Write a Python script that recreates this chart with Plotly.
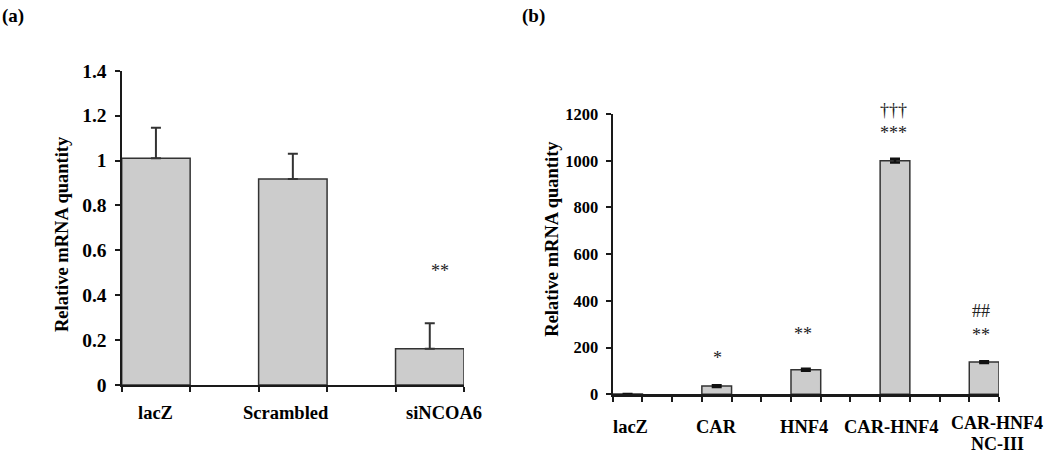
import plotly.graph_objects as go

# ---------------- data ----------------
a_categories = ["lacZ", "Scrambled", "siNCOA6"]
a_values = [1.01, 0.918, 0.162]
a_errors = [0.136, 0.112, 0.113]
a_sig = ["", "", "**"]
a_sig_y = [None, None, 0.508]

b_categories = ["lacZ", "CAR", "HNF4", "CAR-HNF4", "CAR-HNF4\nNC-III"]
b_values = [1, 35, 105, 1000, 138]
b_errors = [0, 4, 4, 8, 4]
b_sig_top = ["", "", "", "†††", "##"]
b_sig_top_y = [None, None, None, 1118, 357]
b_sig_low = ["", "*", "**", "***", "**"]
b_sig_low_y = [None, 156, 258, 1118, 255]

a_yticks = [0, 0.2, 0.4, 0.6, 0.8, 1, 1.2, 1.4]
a_yticklabels = ["0", "0.2", "0.4", "0.6", "0.8", "1", "1.2", "1.4"]
b_yticks = [0, 200, 400, 600, 800, 1000, 1200]
b_yticklabels = ["0", "200", "400", "600", "800", "1000", "1200"]

# ---------------- style ----------------
W, H = 1050, 455
SERIF = "Liberation Serif, Times New Roman, serif"
BAR_FILL = "#cccccc"
EDGE = "#333333"
AX = "#1a1a1a"

a_step = 2   # slots per group in panel a
b_step = 3   # slots per group in panel b
a_x = [i * a_step for i in range(len(a_categories))]
b_x = [i * b_step for i in range(len(b_categories))]
a_nslots = a_x[-1] + 1
b_nslots = b_x[-1] + 1

a_label_shift = [0, -7, 14]
b_label_shift = [3, 0, -2, -4, 13]
b_sig_shift = [0, 1, -3, -2, -3]
a_sig_shift = [0, 0, 10]
b_top_yshift = [0, 0, 0, 23, 0]


def px_x(p):
    return p / W


def px_y(p):
    return 1 - p / H


fig = go.Figure()

fig.add_trace(go.Bar(
    x=a_x, y=a_values, width=1.0,
    marker=dict(color=BAR_FILL, line=dict(color=EDGE, width=1.5)),
    error_y=dict(type="data", array=a_errors, arrayminus=[0] * len(a_errors),
                 symmetric=False, color=EDGE, thickness=2, width=5),
    xaxis="x", yaxis="y", showlegend=False, hoverinfo="skip",
))

fig.add_trace(go.Bar(
    x=b_x, y=b_values, width=1.0,
    marker=dict(color=BAR_FILL, line=dict(color=EDGE, width=1.5)),
    error_y=dict(type="data", array=b_errors, color="#111111", thickness=2.5, width=5),
    xaxis="x2", yaxis="y2", showlegend=False, hoverinfo="skip",
))

tick_font_a = dict(family=SERIF, size=19.5, color="#000", weight="bold")
tick_font_b = dict(family=SERIF, size=16.5, color="#000", weight="bold")

common_x = dict(showgrid=False, zeroline=False, showline=True, linewidth=2.2,
                linecolor=AX, ticks="outside", ticklen=5, tickwidth=2,
                tickcolor=AX, showticklabels=False, tickmode="array", automargin=False)
common_y = dict(showgrid=False, zeroline=False, showline=True, linewidth=2.2,
                linecolor=AX, ticks="outside", ticklen=5, tickwidth=2,
                tickcolor=AX, tickmode="array", ticklabelstandoff=4, automargin=False)

fig.update_layout(
    template="none",
    width=W, height=H,
    margin=dict(l=0, r=0, t=0, b=0, pad=0, autoexpand=False),
    paper_bgcolor="white", plot_bgcolor="white",
    showlegend=False,
    bargap=0,
    xaxis=dict(domain=[px_x(121.7), px_x(464)], range=[-0.5, a_nslots - 0.5],
               tickvals=[i - 0.5 for i in range(a_nslots + 1)], anchor="y", **common_x),
    yaxis=dict(domain=[px_y(385), px_y(70.7)], range=[0, 1.4], anchor="x",
               tickvals=a_yticks, ticktext=a_yticklabels, tickfont=tick_font_a, **common_y),
    xaxis2=dict(domain=[px_x(612.7), px_x(999)], range=[-0.5, b_nslots - 0.5],
                tickvals=[i - 0.5 for i in range(b_nslots + 1)], anchor="y2", **common_x),
    yaxis2=dict(domain=[px_y(394.3), px_y(114)], range=[0, 1200], anchor="x2",
                tickvals=b_yticks, ticktext=b_yticklabels, tickfont=tick_font_b, **common_y),
)

ann = []
lab_font = dict(family=SERIF, size=18.5, color="#000", weight="bold")
lab_font_2line = dict(family=SERIF, size=18, color="#000", weight="bold")
sig_font = dict(family=SERIF, size=18, color="#222")

# panel letters
ann.append(dict(text="(a)", x=0, y=px_y(16.5), xref="paper", yref="paper",
                xanchor="left", yanchor="middle", showarrow=False,
                font=dict(family=SERIF, size=19, color="#000", weight="bold")))
ann.append(dict(text="(b)", x=px_x(520), y=px_y(16.5), xref="paper", yref="paper",
                xanchor="left", yanchor="middle", showarrow=False,
                font=dict(family=SERIF, size=19, color="#000", weight="bold")))

# y titles
ann.append(dict(text="Relative mRNA quantity", x=px_x(62), y=px_y(234),
                xref="paper", yref="paper", textangle=-90, showarrow=False,
                xanchor="center", yanchor="middle", font=lab_font))
ann.append(dict(text="Relative mRNA quantity", x=px_x(552), y=px_y(238.7),
                xref="paper", yref="paper", textangle=-90, showarrow=False,
                xanchor="center", yanchor="middle", font=lab_font))

# category labels
for xv, lab, sh in zip(a_x, a_categories, a_label_shift):
    ann.append(dict(text=lab, x=xv, xref="x", y=px_y(413), yref="paper",
                    xshift=sh, showarrow=False, xanchor="center", yanchor="middle",
                    font=lab_font))
for xv, lab, sh in zip(b_x, b_categories, b_label_shift):
    lines = lab.split("\n")
    if len(lines) == 1:
        ann.append(dict(text=lines[0], x=xv, xref="x2", y=px_y(426.5), yref="paper",
                        xshift=sh, showarrow=False, xanchor="center", yanchor="middle",
                        borderpad=0, font=lab_font))
    else:
        for k, line in enumerate(lines):
            ann.append(dict(text=line, x=xv, xref="x2", y=px_y(423.3 + 20.7 * k),
                            yref="paper", xshift=sh, showarrow=False, xanchor="center",
                            yanchor="middle", borderpad=0, font=lab_font_2line))

# significance marks
for xv, s, yv, sh in zip(a_x, a_sig, a_sig_y, a_sig_shift):
    if s:
        ann.append(dict(text=s, x=xv, y=yv, xref="x", yref="y", xshift=sh,
                        showarrow=False, font=sig_font))
for xv, s, yv, sh, ys in zip(b_x, b_sig_top, b_sig_top_y, b_sig_shift, b_top_yshift):
    if s:
        ann.append(dict(text=s, x=xv, y=yv, xref="x2", yref="y2", xshift=sh, yshift=ys,
                        showarrow=False, font=sig_font))
for xv, s, yv, sh in zip(b_x, b_sig_low, b_sig_low_y, b_sig_shift):
    if s:
        ann.append(dict(text=s, x=xv, y=yv, xref="x2", yref="y2", xshift=sh,
                        showarrow=False, font=sig_font))

fig.update_layout(annotations=ann)

fig.write_html(
    "out.html",
    config={"displayModeBar": False, "staticPlot": True},
    post_script="document.body.style.margin='0';document.body.style.overflow='hidden';",
)
